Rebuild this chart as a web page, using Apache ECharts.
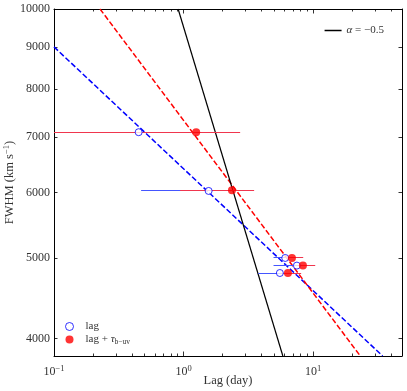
<!DOCTYPE html>
<html>
<head>
<meta charset="utf-8">
<script src="https://cdn.jsdelivr.net/npm/echarts@6/dist/echarts.min.js"></script>
<style>
html,body{margin:0;padding:0;background:#fff}
#main{width:407px;height:391px}
</style>
</head>
<body>
<div id="main"></div>
<script>
// lag only (open blue circles)
var lagX = [0.45, 1.56, 6.08, 7.48, 5.53];
var lagY = [7100, 6030, 5005, 4900, 4800];
var lagLo = [0.08, 0.47, 4.94, 4.94, 3.76];
var lagHi = [2.4, 3.0, 7.5, 9.0, 7.5];
// lag + tau_b-uv (filled red)
var totX = [1.25, 2.36, 6.85, 8.33, 6.38];
var totY = [7100, 6040, 5005, 4900, 4800];
var totLo = [0.06, 0.94, 6.0, 7.4, 5.6];
var totHi = [2.73, 3.5, 8.37, 10.36, 8.07];
// fitted lines, end points
var blueFitX = [0.1, 34.3];
var blueFitY = [9000, 3811];
var redFitX = [0.2265, 23.07];
var redFitY = [10000, 3811];
var alphaX = [0.907, 5.83];
var alphaY = [10000, 3811];
// ticks
var xMajor = [0.1, 1, 10];
var xMinor = [0.2, 0.3, 0.4, 0.5, 0.6, 0.7, 0.8, 0.9, 2, 3, 4, 5, 6, 7, 8, 9, 20, 30, 40];
var yTicks = [4000, 5000, 6000, 7000, 8000, 9000, 10000];

var font = 'Liberation Serif';
var xMin = 0.1, xMax = 48.4, yMin = 3811, yMax = 10000;

function pairs(xs, ys) {
    var out = [];
    for (var i = 0; i < xs.length; i++) out.push([xs[i], ys[i]]);
    return out;
}
function bars(xs, ys, lo, hi) {
    var out = [];
    for (var i = 0; i < xs.length; i++) out.push([xs[i], ys[i], lo[i], hi[i]]);
    return out;
}
function errRender(color) {
    return function (params, api) {
        var y = api.value(1);
        var a = api.coord([api.value(2), y]);
        var b = api.coord([api.value(3), y]);
        var py = Math.round(a[1] - 0.5) + 0.5;
        return {
            type: 'line',
            shape: {x1: a[0], y1: py, x2: b[0], y2: py},
            style: {stroke: color, lineWidth: 1}
        };
    };
}
function xAx(pos, major, withLabel) {
    var ax = {
        type: 'log', logBase: 10, min: xMin, max: xMax, position: pos,
        splitLine: {show: false},
        axisLine: {show: major, lineStyle: {color: '#000', width: 1}},
        axisTick: {show: true, inside: true, length: major ? 4.5 : 2.5,
            customValues: major ? xMajor : xMinor, lineStyle: {color: '#000', width: 0.8}},
        axisLabel: {show: false}
    };
    if (withLabel) {
        ax.axisLabel = {
            show: true, customValues: xMajor, margin: 8, color: '#333',
            fontFamily: font, fontSize: 12,
            formatter: function (v) {
                var e = Math.round(Math.log10(v));
                return '10{s|' + (e < 0 ? '\u2212' + (-e) : e) + '}';
            },
            rich: {s: {fontFamily: font, fontSize: 8.5, color: '#333', padding: [0, 0, 7, 0]}}
        };
        ax.name = 'Lag (day)';
        ax.nameLocation = 'middle';
        ax.nameGap = 18;
        ax.nameMoveOverlap = false;
        ax.nameTextStyle = {fontFamily: font, fontSize: 12.5, color: '#333'};
    }
    return ax;
}
function yAx(pos, withLabel) {
    var ax = {
        type: 'log', logBase: 10, min: yMin, max: yMax, position: pos,
        splitLine: {show: false},
        axisLine: {show: true, lineStyle: {color: '#000', width: 1}},
        axisTick: {show: true, inside: true, length: 3.5, customValues: yTicks,
            lineStyle: {color: '#000', width: 0.8}},
        axisLabel: {show: false}
    };
    if (withLabel) {
        ax.axisLabel = {show: true, customValues: yTicks, margin: 4, color: '#333',
            fontFamily: font, fontSize: 12,
            formatter: function (v) { return String(Math.round(v)); }};
        ax.name = 'FWHM (km s{s|\u22121})';
        ax.nameLocation = 'middle';
        ax.nameGap = 36;
        ax.nameMoveOverlap = false;
        ax.nameTextStyle = {fontFamily: font, fontSize: 12.5, color: '#333',
            rich: {s: {fontFamily: font, fontSize: 8.5, color: '#333', padding: [0, 0, 7, 0]}}};
    }
    return ax;
}

var myChart = echarts.init(document.getElementById('main'));
var option = {
    animation: false,
    backgroundColor: '#fff',
    grid: {left: 54, right: 5, top: 9, bottom: 35, containLabel: false, outerBoundsMode: 'none'},
    xAxis: [xAx('bottom', true, true), xAx('bottom', false, false), xAx('top', true, false), xAx('top', false, false)],
    yAxis: [yAx('left', true), yAx('right', false)],
    legend: [{
        data: [{name: 'alpha', icon: 'rect'}],
        right: 18, top: 20, itemWidth: 17, itemHeight: 1.5,
        formatter: function () { return '{i|\u03b1} = \u22120.5'; },
        textStyle: {fontFamily: font, fontSize: 11, color: '#333',
            rich: {i: {fontFamily: font, fontStyle: 'italic', fontSize: 11, color: '#333'}}}
    }, {
        data: ['lag', 'lagtau'],
        orient: 'vertical', left: 60, top: 316, itemGap: 2, itemWidth: 22, itemHeight: 8,
        itemStyle: {borderWidth: 1},
        formatter: function (n) { return n == 'lag' ? 'lag' : 'lag + {t|\u03c4}{s|b\u2212uv}'; },
        textStyle: {fontFamily: font, fontSize: 11, color: '#333',
            rich: {
                t: {fontFamily: font, fontStyle: 'italic', fontSize: 11, color: '#333'},
                s: {fontFamily: font, fontSize: 7.5, color: '#333', padding: [5, 0, 0, 0]}
            }}
    }],
    series: [{
        name: 'bluefit', type: 'line', data: pairs(blueFitX, blueFitY), symbol: 'none',
        lineStyle: {color: '#0000ff', width: 1.5, type: [5.5, 2.4]}, z: 2
    }, {
        name: 'redfit', type: 'line', data: pairs(redFitX, redFitY), symbol: 'none',
        lineStyle: {color: '#ff0000', width: 1.5, type: [5.5, 2.4]}, z: 2
    }, {
        name: 'alpha', type: 'line', data: pairs(alphaX, alphaY), symbol: 'none',
        itemStyle: {color: '#000'},
        lineStyle: {color: '#000', width: 1.2}, z: 2
    }, {
        name: 'lagerr', type: 'custom', clip: true, data: bars(lagX, lagY, lagLo, lagHi),
        renderItem: errRender('#4455ff'), z: 3
    }, {
        name: 'toterr', type: 'custom', clip: true, data: bars(totX, totY, totLo, totHi),
        renderItem: errRender('#f0364e'), z: 4
    }, {
        name: 'lag', type: 'scatter', data: pairs(lagX, lagY), symbol: 'circle', symbolSize: 7,
        itemStyle: {color: '#fff', borderColor: '#0000ff', borderWidth: 1}, z: 5
    }, {
        name: 'lagtau', type: 'scatter', data: pairs(totX, totY), symbol: 'circle', symbolSize: 8,
        itemStyle: {color: '#ff0000'}, z: 6
    }]
};
myChart.setOption(option);
</script>
</body>
</html>
